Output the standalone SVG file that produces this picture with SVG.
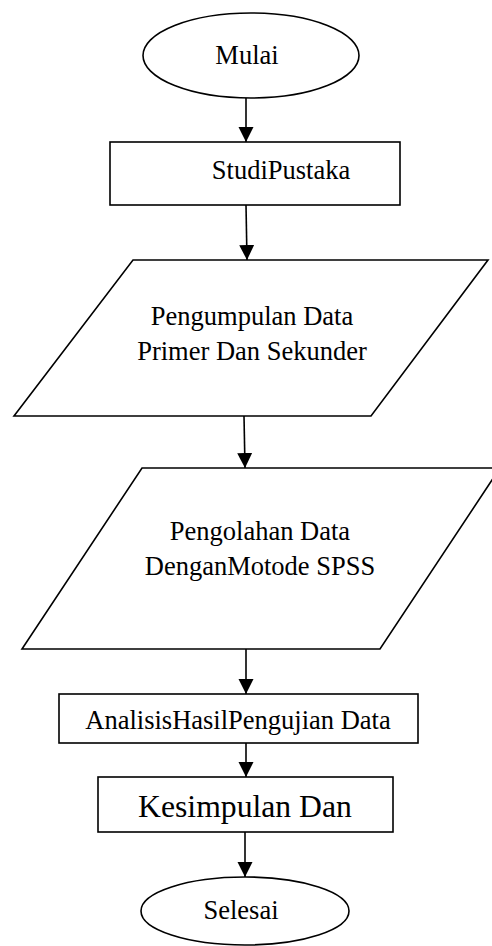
<svg xmlns="http://www.w3.org/2000/svg" width="492" height="946" viewBox="0 0 492 946">
<style>
.s{fill:#fff;stroke:#000;stroke-width:1.6}
.t{font-family:"Liberation Serif","Times New Roman",serif;font-size:26.5px;fill:#000;text-anchor:middle}
.c{stroke:#000;stroke-width:1.6;fill:none;marker-end:url(#ah)}
</style>
<defs>
<marker id="ah" markerUnits="userSpaceOnUse" markerWidth="16" markerHeight="16" refX="15" refY="7.5" orient="auto">
<path d="M0,0 L15,7.5 L0,15 Z" fill="#000"/>
</marker>
</defs>
<g id="connectors">
<line class="c" x1="246" y1="98" x2="246" y2="142"/>
<line class="c" x1="246" y1="205" x2="247" y2="260"/>
<line class="c" x1="244" y1="416" x2="245" y2="468"/>
<line class="c" x1="246" y1="649" x2="246" y2="694"/>
<line class="c" x1="246" y1="743" x2="246" y2="777"/>
<line class="c" x1="245" y1="832" x2="245" y2="877"/>
</g>
<g id="mulai">
<ellipse class="s" cx="251" cy="55.5" rx="108" ry="42.5"/>
<text class="t" x="247" y="64">Mulai</text>
</g>
<g id="studi">
<rect class="s" x="110" y="142" width="290" height="63"/>
<text class="t" x="281" y="179">StudiPustaka</text>
</g>
<g id="pengumpulan">
<polygon class="s" points="133,260 488,260 371,416 14,416"/>
<text class="t" x="252" y="325">Pengumpulan Data</text>
<text class="t" x="252" y="360">Primer Dan Sekunder</text>
</g>
<g id="pengolahan">
<polygon class="s" points="142,468 500,468 380,649 22,649"/>
<text class="t" x="260" y="540">Pengolahan Data</text>
<text class="t" x="260" y="575">DenganMotode SPSS</text>
</g>
<g id="analisis">
<rect class="s" x="59" y="694" width="359" height="49"/>
<text class="t" x="238" y="729">AnalisisHasilPengujian Data</text>
</g>
<g id="kesimpulan">
<rect class="s" x="98" y="777" width="295" height="55"/>
<text class="t" x="245" y="817" style="font-size:31.7px">Kesimpulan Dan</text>
</g>
<g id="selesai">
<ellipse class="s" cx="245" cy="911" rx="104" ry="34"/>
<text class="t" x="241" y="919">Selesai</text>
</g>
</svg>
